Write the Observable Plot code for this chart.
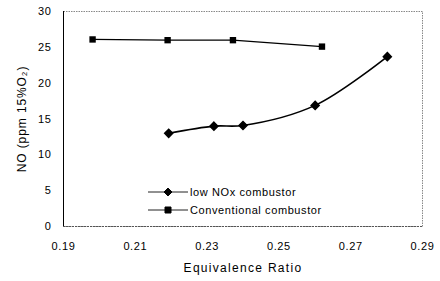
<!DOCTYPE html>
<html><head><meta charset="utf-8">
<script src="https://cdn.jsdelivr.net/npm/d3@7"></script>
<script src="https://cdn.jsdelivr.net/npm/@observablehq/plot@0.6"></script>
<style>
body{margin:0;background:#fff;}
#chart svg{font-family:"Liberation Sans",Arial,sans-serif;}
#chart svg g[aria-label="x-axis label"] text{font-size:12px;letter-spacing:1.3px;}
#chart svg g[aria-label="y-axis label"] text{font-size:12px;letter-spacing:0.9px;}
</style></head>
<body><div id="chart"></div>
<script>
const lowNOxX = [0.2193, 0.2319, 0.2400, 0.2601, 0.2802];
const lowNOxY = [13.0, 14.0, 14.1, 16.9, 23.7];
const convX = [0.1981, 0.2190, 0.2372, 0.2620];
const convY = [26.1, 26.0, 26.0, 25.1];
const xTicks = [0.19, 0.21, 0.23, 0.25, 0.27, 0.29];
const yTicks = [0, 5, 10, 15, 20, 25, 30];
const seriesNames = ["low NOx combustor", "Conventional combustor"];

const low = lowNOxX.map((x, i) => ({x, y: lowNOxY[i]}));
const conv = convX.map((x, i) => ({x, y: convY[i]}));

function legendMark(index, scales, values, dims) {
  const g = d3.create("svg:g").attr("font-size", 11).attr("letter-spacing", 0.6).attr("text-anchor", "start");
  seriesNames.forEach((name, i) => {
    const y = 192 + i * 18;
    g.append("line").attr("x1", 148).attr("x2", 188).attr("y1", y).attr("y2", y)
      .attr("stroke", "#222").attr("stroke-width", 1);
    const s = i === 0 ? d3.symbol(d3.symbolDiamond2, 40) : d3.symbol(d3.symbolSquare, 36);
    g.append("path").attr("d", s()).attr("transform", `translate(168,${y})`).attr("fill", "#000").attr("stroke", "#000");
    g.append("text").attr("x", 190).attr("y", y).attr("dy", "0.35em").attr("fill", "#000").text(name);
  });
  return g.node();
}

const chart = Plot.plot({
  width: 440, height: 281,
  marginLeft: 63, marginRight: 18, marginTop: 11, marginBottom: 55,
  style: {fontSize: "11px", letterSpacing: "0.6px"},
  x: {domain: [0.19, 0.29]},
  y: {domain: [0, 30]},
  marks: [
    Plot.frame({stroke: "#888", strokeDasharray: "1.5,1"}),
    Plot.ruleX([0.19], {stroke: "#000", strokeWidth: 1}),
    Plot.ruleY([0], {stroke: "#555", strokeWidth: 1, strokeDasharray: "2,1"}),
    Plot.axisX({ticks: xTicks, tickFormat: d3.format(".2f"), tickSize: 0, tickPadding: 16,
      label: "Equivalence Ratio", labelAnchor: "center", labelArrow: "none", labelOffset: 45, fontSize: 11}),
    Plot.axisY({ticks: yTicks, tickSize: 0, tickPadding: 12,
      label: "NO (ppm 15%O₂)", labelAnchor: "center", labelArrow: "none", labelOffset: 46, fontSize: 11}),
    Plot.line(low, {x: "x", y: "y", curve: "catmull-rom", stroke: "#000", strokeWidth: 1.6}),
    Plot.line(conv, {x: "x", y: "y", stroke: "#000", strokeWidth: 1.3}),
    Plot.dot(low, {x: "x", y: "y", symbol: "diamond2", r: 3.6, fill: "#000", stroke: "#000"}),
    Plot.dot(conv, {x: "x", y: "y", symbol: "square", r: 3.6, fill: "#000"}),
    legendMark
  ]
});
document.getElementById("chart").append(chart);
</script></body></html>
